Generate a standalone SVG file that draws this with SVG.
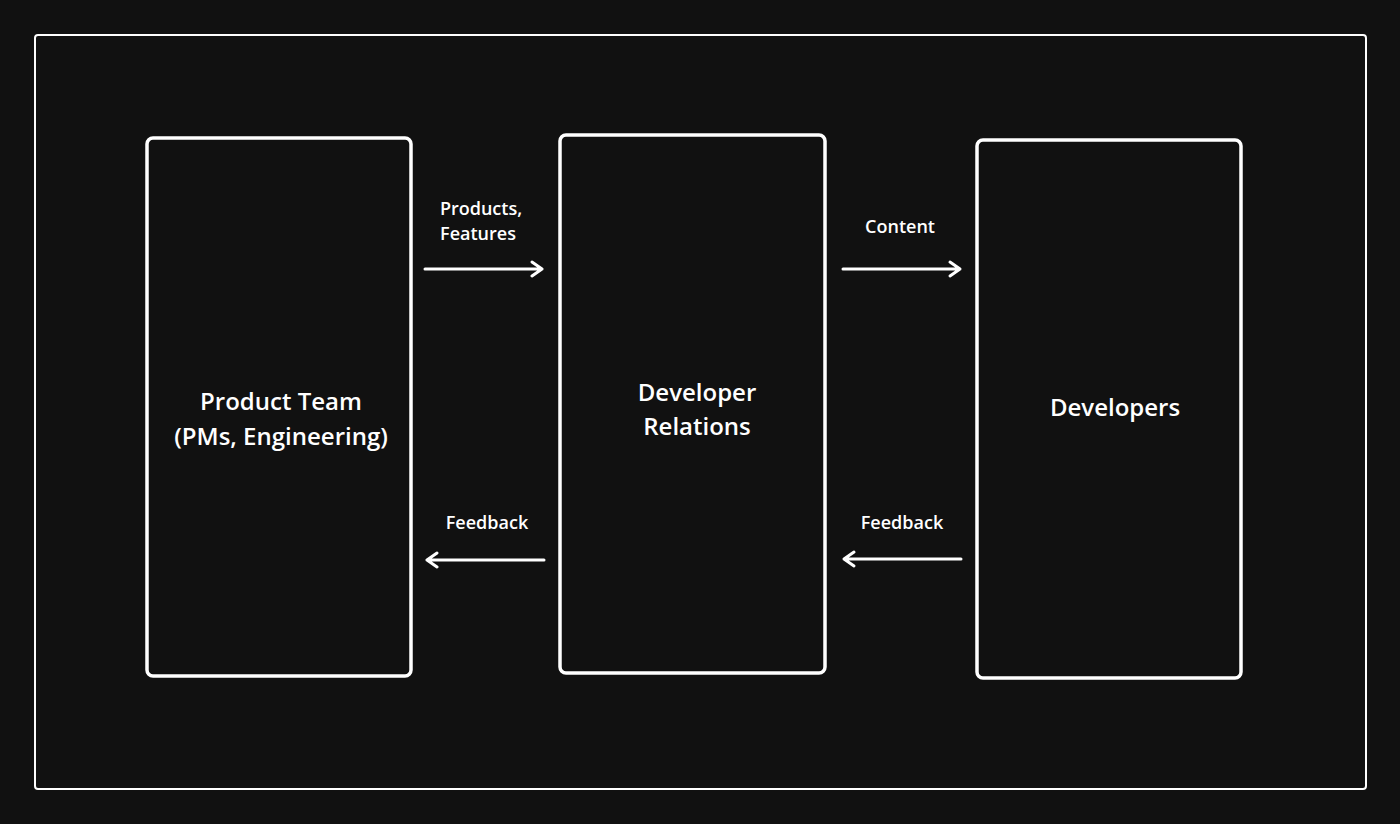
<svg xmlns="http://www.w3.org/2000/svg" width="1400" height="824" viewBox="0 0 1400 824">
<style>
.box{fill:none;stroke:#fff;stroke-width:3.5}
.c{stroke:#fff;stroke-width:3;fill:none;stroke-linecap:round;stroke-linejoin:round}
.t{fill:#fff;font-family:"Open Sans","Liberation Sans",sans-serif;text-anchor:middle;font-weight:600}
.n{font-size:24px}
.l{font-size:18px}
</style>
<rect width="1400" height="824" fill="#111"/>
<rect x="35" y="35" width="1331" height="754" rx="3" fill="none" stroke="#fff" stroke-width="2"/>
<g id="product"><rect class="box" x="147" y="138" width="264" height="538" rx="6"/><text class="t n" x="281" y="410">Product Team</text><text class="t n" x="281" y="445">(PMs, Engineering)</text></g>
<g id="devrel"><rect class="box" x="560" y="135" width="265" height="538" rx="6"/><text class="t n" x="697" y="401">Developer</text><text class="t n" x="697" y="435">Relations</text></g>
<g id="developers"><rect class="box" x="977" y="140" width="264" height="538" rx="6"/><text class="t n" x="1115" y="416">Developers</text></g>
<g id="connectors">
<path class="c" d="M425 269H542M532 262L542 269L532 276"/>
<path class="c" d="M843 269H960M950 262L960 269L950 276"/>
<path class="c" d="M544 560H427M437 553L427 560L437 567"/>
<path class="c" d="M961 559H844M854 552L844 559L854 566"/>
<text class="t l" x="481" y="215">Products,</text><text class="t l" x="478" y="240">Features</text>
<text class="t l" x="900" y="233">Content</text>
<text class="t l" x="487" y="529">Feedback</text>
<text class="t l" x="902" y="529">Feedback</text>
</g>
</svg>
